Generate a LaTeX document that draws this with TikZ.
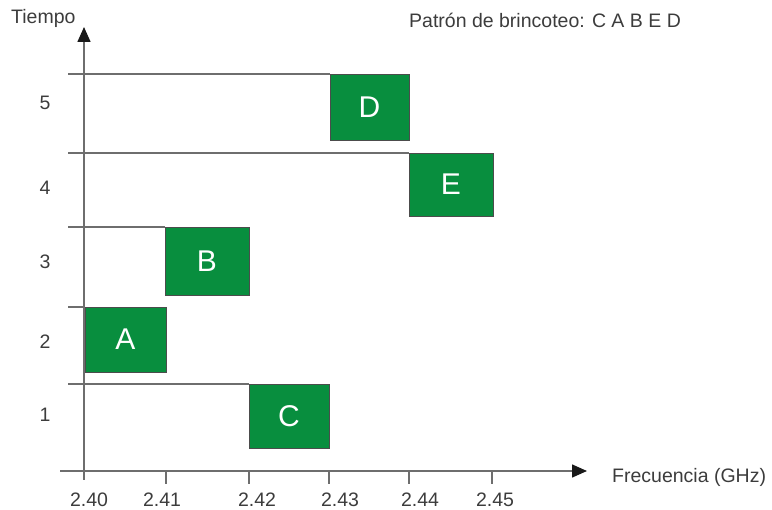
\documentclass[tikz,border=0pt]{standalone}
\usepackage{fontspec}
\setmainfont{Liberation Sans}
\usetikzlibrary{arrows.meta}
\definecolor{slotgreen}{RGB}{8,142,62}
\definecolor{axisgray}{RGB}{110,110,110}
\definecolor{textgray}{RGB}{60,60,60}
\begin{document}
\begin{tikzpicture}[x=1pt,y=-1pt,
  axisline/.style={draw=axisgray,line width=1.5pt},
  gridline/.style={draw=axisgray,line width=1.3pt},
  slot/.style={draw=black!70,line width=0.8pt,fill=slotgreen,inner sep=0pt},
  slotlabel/.style={text=white,font=\fontsize{30}{30}\selectfont},
  small/.style={text=textgray,font=\fontsize{19.5}{19.5}\selectfont,inner sep=0pt},
  tip/.style={-{Triangle[length=15pt,width=13pt,color=black!90]}}]
\useasboundingbox (0,0) rectangle (772,510);

% horizontal lines marking each time slot
\coordinate (g5a) at (68,74);  \coordinate (g5b) at (330,74);
\coordinate (g4a) at (68,153); \coordinate (g4b) at (409,153);
\coordinate (g3a) at (68,227); \coordinate (g3b) at (165,227);
\coordinate (g2a) at (68,307); \coordinate (g2b) at (85,307);
\coordinate (g1a) at (68,384); \coordinate (g1b) at (249,384);
\foreach \n in {1,...,5} \draw[gridline] (g\n a) -- (g\n b);

% axes
\coordinate (yb) at (84,480);
\coordinate (yt) at (84,27);
\coordinate (xl) at (60,471);
\coordinate (xr) at (587,471);
\draw[axisline,tip] (yb) -- (yt);
\draw[axisline,tip] (xl) -- (xr);

% frequency ticks
\foreach \x in {166,249,329,409,492}
  \draw[axisline] (\x,471) -- (\x,484);

% frequency slots
\draw[slot] (330,74)  rectangle (409,140);
\draw[slot] (409,153) rectangle (493,216);
\draw[slot] (165,227) rectangle (249,295);
\draw[slot] (85,307)  rectangle (166,372);
\draw[slot] (249,384) rectangle (329,448);
\node[slotlabel] (D) at (369.5,107) {D};
\node[slotlabel] (E) at (451,184.5) {E};
\node[slotlabel] (B) at (207,261) {B};
\node[slotlabel] (A) at (125.5,339.5) {A};
\node[slotlabel] (C) at (289,416) {C};

% time labels
\node[small] (t5) at (45,103) {5};
\node[small] (t4) at (45,188) {4};
\node[small] (t3) at (45,262) {3};
\node[small] (t2) at (45,342) {2};
\node[small] (t1) at (45,415) {1};

% frequency labels
\node[small] (f0) at (89,500) {2.40};
\node[small] (f1) at (162,500) {2.41};
\node[small] (f2) at (257,500) {2.42};
\node[small] (f3) at (340,500) {2.43};
\node[small] (f4) at (420,500) {2.44};
\node[small] (f5) at (495,500) {2.45};

% axis titles and hopping sequence
\node[small,anchor=west] (ylab) at (11,18) {Tiempo};
\node[small,anchor=west] (xlab) at (612,477) {Frecuencia (GHz)};
\node[small,anchor=west] (seq) at (409,20) {Patrón de brincoteo: C A B E D};
\end{tikzpicture}
\end{document}
